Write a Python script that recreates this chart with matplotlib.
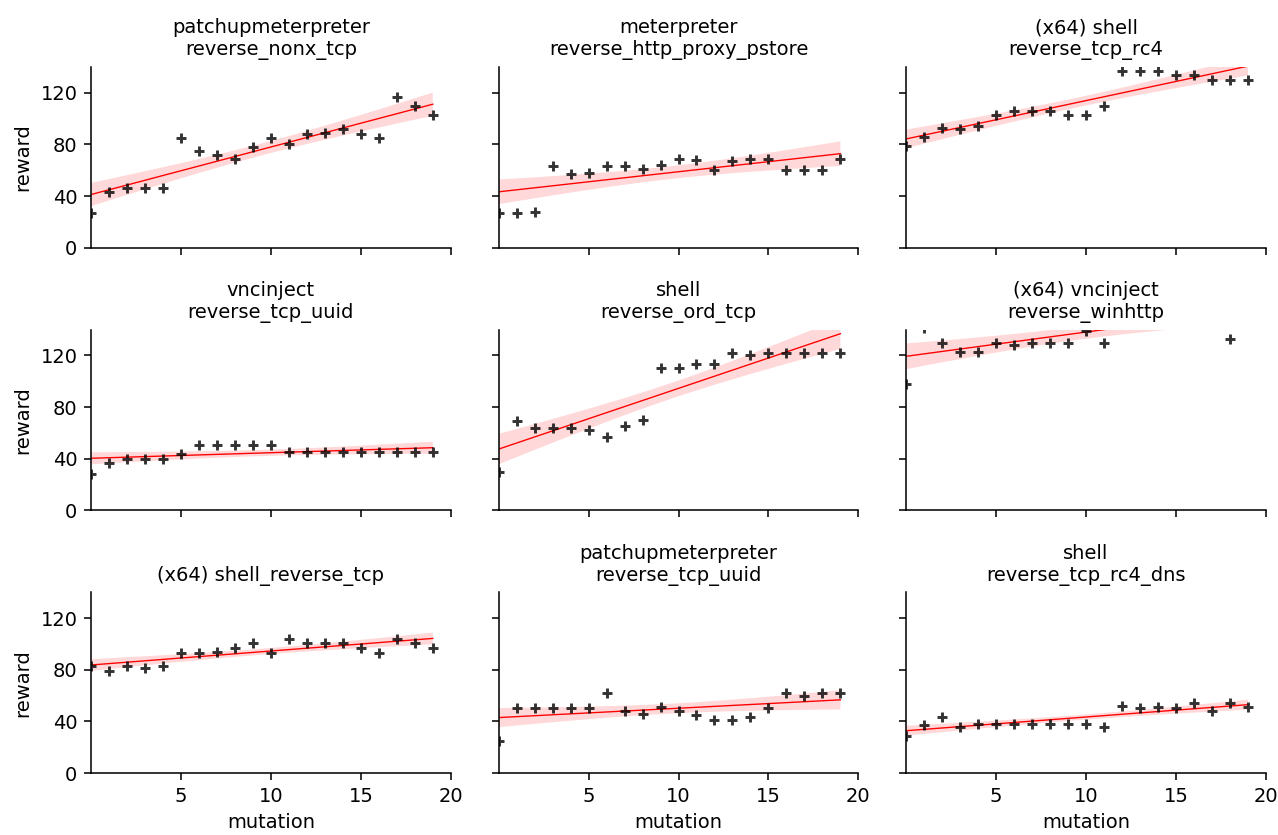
import numpy as np
import matplotlib
matplotlib.use("Agg")
import matplotlib.pyplot as plt

titles = [
    "patchupmeterpreter\nreverse_nonx_tcp",
    "meterpreter\nreverse_http_proxy_pstore",
    "(x64) shell\nreverse_tcp_rc4",
    "vncinject\nreverse_tcp_uuid",
    "shell\nreverse_ord_tcp",
    "(x64) vncinject\nreverse_winhttp",
    "(x64) shell_reverse_tcp",
    "patchupmeterpreter\nreverse_tcp_uuid",
    "shell\nreverse_tcp_rc4_dns",
]

mutation = list(range(20))

reward_patchup_nonx = [27, 43, 46, 46, 46, 85, 75, 72, 69, 78, 85, 80, 88, 89, 92, 88, 85, 117, 110, 103]
reward_meterp_pstore = [27, 27, 28, 63, 57, 58, 63, 63, 61, 64, 69, 68, 60, 67, 69, 69, 60, 60, 60, 69]
reward_x64shell_rc4 = [79, 86, 93, 92, 94, 103, 106, 106, 106, 103, 103, 110, 137, 137, 137, 134, 134, 130, 130, 130]
reward_vnc_uuid = [28, 37, 40, 40, 40, 44, 51, 51, 51, 51, 51, 45, 45, 45, 45, 45, 45, 45, 45, 45]
reward_shell_ord = [30, 69, 64, 64, 64, 62, 57, 65, 70, 110, 110, 113, 113, 122, 120, 122, 122, 122, 122, 122]
reward_x64vnc_winhttp = [98, 141, 130, 123, 123, 130, 128, 130, 130, 130, 139, 130, 160, 155, 155, 155, 155, 144, 133, 155]
reward_x64shell_tcp = [83, 79, 83, 81, 83, 93, 93, 94, 97, 101, 93, 104, 101, 101, 101, 97, 93, 104, 101, 97]
reward_patchup_uuid = [25, 50, 50, 50, 50, 50, 62, 48, 46, 51, 48, 45, 41, 41, 43, 50, 62, 60, 62, 62]
reward_shell_rc4_dns = [29, 37, 43, 36, 38, 38, 38, 38, 38, 38, 38, 36, 52, 50, 51, 50, 54, 48, 54, 51]

series = [
    reward_patchup_nonx, reward_meterp_pstore, reward_x64shell_rc4,
    reward_vnc_uuid, reward_shell_ord, reward_x64vnc_winhttp,
    reward_x64shell_tcp, reward_patchup_uuid, reward_shell_rc4_dns,
]

x_ticks = [5, 10, 15, 20]
y_ticks = [0, 40, 80, 120]

plt.rcParams["font.family"] = ["DejaVu Sans"]
plt.rcParams["font.size"] = 10

fig, axes = plt.subplots(3, 3, sharex=True, sharey=True, figsize=(1278 / 140, 835 / 140), dpi=140)
fig.subplots_adjust(left=91 / 1278, right=1266 / 1278, top=1 - 67 / 835, bottom=1 - 773 / 835,
                    wspace=0.133, hspace=0.453)

T975 = 2.101  # t quantile, 18 dof

for i, ax in enumerate(axes.flat):
    x = np.asarray(mutation, dtype=float)
    y = np.asarray(series[i], dtype=float)
    n = len(x)
    xbar = x.mean()
    sxx = ((x - xbar) ** 2).sum()
    slope = ((x - xbar) * (y - y.mean())).sum() / sxx
    icpt = y.mean() - slope * xbar
    resid = y - (icpt + slope * x)
    s = np.sqrt((resid ** 2).sum() / (n - 2))
    grid = np.linspace(x.min(), x.max(), 100)
    yhat = icpt + slope * grid
    se = s * np.sqrt(1 / n + (grid - xbar) ** 2 / sxx)
    ax.fill_between(grid, yhat - T975 * se, yhat + T975 * se, facecolor="red", alpha=0.15, linewidth=0)
    ax.plot(grid, yhat, color="red", lw=0.7)
    ax.scatter(x, y, marker="+", s=30, color="k", alpha=0.8, linewidths=1.5, zorder=3)
    ax.set_title(titles[i], fontsize=10)
    ax.spines["top"].set_visible(False)
    ax.spines["right"].set_visible(False)
    ax.set_xlim(0, 20)
    ax.set_ylim(0, 140)
    ax.set_xticks(x_ticks)
    ax.set_yticks(y_ticks)
    if i % 3 == 0:
        ax.set_ylabel("reward")
    if i >= 6:
        ax.set_xlabel("mutation")

fig.savefig("out.png", dpi=140)
